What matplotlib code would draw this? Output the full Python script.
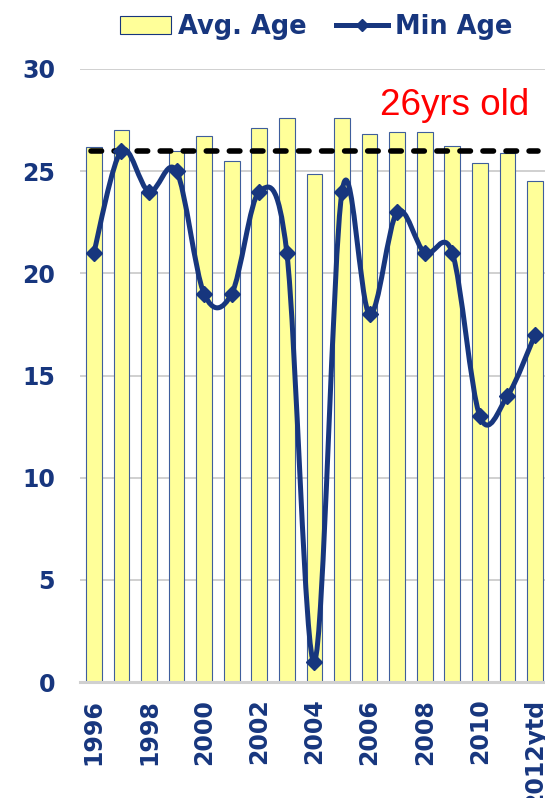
import numpy as np
import matplotlib.pyplot as plt
from matplotlib.path import Path
from matplotlib.patches import PathPatch, Patch
from matplotlib.lines import Line2D

# === Dados ===
years = ['1996', '1997', '1998', '1999', '2000', '2001', '2002', '2003', '2004',
         '2005', '2006', '2007', '2008', '2009', '2010', '2011', '2012ytd']
avg_age = [26.2, 27.0, 24.0, 26.0, 26.7, 25.5, 27.1, 27.6, 24.85,
           27.6, 26.8, 26.9, 26.9, 26.25, 25.4, 25.9, 24.5]
min_age = [21, 26, 24, 25, 19, 19, 24, 21, 1,
           24, 18, 23, 21, 21, 13, 14, 17]
ref_age = 26

navy = '#17367E'
x = np.arange(len(years))

fig = plt.figure(figsize=(5.45, 7.98), dpi=100)
ax = fig.add_axes([80 / 545, 116 / 798, 465 / 545, 613 / 798])

# === Barras (idade média) ===
ax.bar(x, avg_age, width=0.57, color='#FFFF99', edgecolor='#3F5E9C',
       linewidth=0.8, zorder=2)

# === Linha tracejada de referência ===
ax.plot([-0.1, 16.1], [ref_age, ref_age], color='black', lw=4,
        dashes=(1.9, 2.25), dash_capstyle='round', zorder=3)

# === Linha suavizada (idade mínima) ===
pts = np.column_stack([x, min_age]).astype(float)
verts = [tuple(pts[0])]
codes = [Path.MOVETO]
for i in range(len(pts) - 1):
    p0 = pts[max(i - 1, 0)]
    p1 = pts[i]
    p2 = pts[i + 1]
    p3 = pts[min(i + 2, len(pts) - 1)]
    c1 = p1 + (p2 - p0) / 6
    c2 = p2 - (p3 - p1) / 6
    verts += [tuple(c1), tuple(c2), tuple(p2)]
    codes += [Path.CURVE4] * 3
ax.add_patch(PathPatch(Path(verts, codes), facecolor='none', edgecolor=navy,
                       lw=3.6, capstyle='round', joinstyle='round', zorder=4))
ax.plot(x, min_age, linestyle='none', marker='D', markersize=8.5,
        color=navy, zorder=5)

ax.text(10.38, 27.75, '26yrs old', color='red', fontsize=26.5,
        family='Liberation Sans', ha='left', va='baseline', zorder=6)

# === Eixos ===
ax.set_xlim(-0.5, 16.36)
ax.set_ylim(0, 30)
ax.set_yticks(range(0, 31, 5))
ax.set_xticks(x[::2])
ax.set_xticklabels(years[::2], rotation=90, va='top', ha='center')
ax.tick_params(axis='both', length=0, labelsize=17, labelcolor=navy)
ax.tick_params(axis='y', pad=18)
ax.tick_params(axis='x', pad=12)
for lbl in ax.get_xticklabels() + ax.get_yticklabels():
    lbl.set_fontweight('bold')

ax.grid(axis='y', color='#C8C8C8', lw=1.2, zorder=0)
ax.set_axisbelow(True)
for s in ['top', 'right', 'left']:
    ax.spines[s].set_visible(False)
ax.spines['bottom'].set_color('#D0D0D0')
ax.spines['bottom'].set_linewidth(2.2)

# === Legenda ===
handles = [Patch(facecolor='#FFFF99', edgecolor=navy, linewidth=0.8),
           Line2D([0], [0], color=navy, lw=3.6, marker='D', markersize=6)]
fig.legend(handles, ['Avg. Age', 'Min Age'], loc='center',
           bbox_to_anchor=(316 / 545, 1 - 27 / 798), ncol=2, frameon=False,
           prop={'weight': 'bold', 'size': 18.5}, labelcolor=navy,
           handlelength=2.0, handleheight=0.66, handletextpad=0.27,
           columnspacing=1.15)

fig.savefig('out.png', dpi=100)
